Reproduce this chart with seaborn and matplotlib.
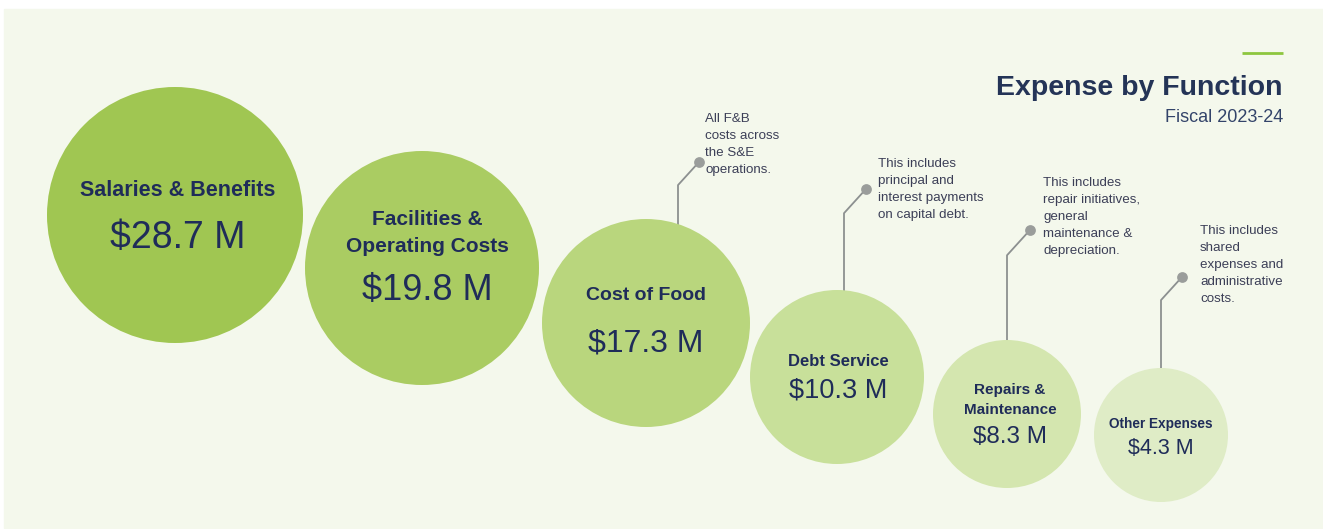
import matplotlib
matplotlib.use("Agg")
import matplotlib.pyplot as plt
from matplotlib.patches import Rectangle
import seaborn as sns

# === DATA ===
categories = ["Salaries & Benefits", "Facilities &\nOperating Costs", "Cost of Food",
              "Debt Service", "Repairs &\nMaintenance", "Other Expenses"]
amounts = [28.7, 19.8, 17.3, 10.3, 8.3, 4.3]  # $ millions
notes = [None, None,
         "All F&B\ncosts across\nthe S&E\noperations.",
         "This includes\nprincipal and\ninterest payments\non capital debt.",
         "This includes\nrepair initiatives,\ngeneral\nmaintenance &\ndepreciation.",
         "This includes\nshared\nexpenses and\nadministrative\ncosts."]
title = "Expense by Function"
subtitle = "Fiscal 2023-24"

# === LAYOUT (pixel space, 1323 x 529) ===
W, H, DPI = 1323, 529, 100
cx = [175, 422, 646, 837, 1007, 1161]
cy = [215, 268, 323, 377, 414, 435]
radius = [128, 117, 104, 87, 74, 67]
colors = ["#a0c652", "#aacc62", "#b9d67d", "#c8e09a", "#d4e6af", "#dfecc6"]
label_y = [190, 233, 295, 361, 400, 424]
label_size = [15.5, 15, 14, 12, 11, 9.8]
value_y = [238, 291, 344, 391, 437, 449]
value_size = [27, 26, 23, 19.5, 17.5, 15.5]
label_dx = [3, 5, 0, 1, 3, 0]
# callouts: dot position, vertical line x, first text line y
dot_xy = [None, None, (699, 162), (866, 189), (1030, 230), (1182, 277)]
stem_x = [None, None, 678, 844, 1007, 1161]
note_x = [None, None, 705, 878, 1043, 1200]
note_y = [None, None, 119, 164, 183, 231]

NAVY = "#1f2c59"
NOTE = "#3c3f57"
BG = "#f4f8ec"

sns.set_style("white")
plt.rcParams["font.family"] = ["Liberation Sans", "DejaVu Sans"]

fig = plt.figure(figsize=(W / DPI, H / DPI), dpi=DPI, facecolor="white")
ax = fig.add_axes([0, 0, 1, 1])
ax.set_xlim(0, W)
ax.set_ylim(H, 0)
ax.axis("off")

ax.add_patch(Rectangle((4, 9), W - 4, 519, color=BG, zorder=0))

# --- callout stems ---
for i, note in enumerate(notes):
    if note is None:
        continue
    dx, dy = dot_xy[i]
    sx = stem_x[i]
    kink = dy + (dx - sx) * 1.1
    ax.plot([dx, sx, sx], [dy, kink, cy[i] - radius[i] + 6], color="#8c9090", lw=1.3, zorder=1)
    ax.scatter([dx], [dy], s=60, color="#9a9d9b", zorder=2, linewidths=0)
    for j, line in enumerate(note.split("\n")):
        ax.text(note_x[i], note_y[i] + j * 17, line, fontsize=9.6, color=NOTE,
                ha="left", va="center", zorder=3)

# --- bubbles ---
sizes = [(2 * r * 72 / DPI) ** 2 for r in radius]
sns.scatterplot(x=cx, y=cy, hue=categories, palette=colors, s=sizes,
                linewidth=0, legend=False, ax=ax, zorder=4)

for i, cat in enumerate(categories):
    ax.text(cx[i] + label_dx[i], label_y[i], cat, fontsize=label_size[i], fontweight="bold",
            color=NAVY, ha="center", va="center", linespacing=1.5, zorder=5)
    ax.text(cx[i] + label_dx[i], value_y[i], f"${amounts[i]} M", fontsize=value_size[i],
            color=NAVY, ha="center", va="center", zorder=5)

# --- title block ---
ax.plot([1242, 1283], [53, 53], color="#8dc63f", lw=2, solid_capstyle="butt")
ax.text(1283, 88, title, fontsize=20.5, fontweight="bold", color="#243457",
        ha="right", va="center")
ax.text(1283, 118, subtitle, fontsize=13, color="#33446a", ha="right", va="center")

fig.savefig("out.png", dpi=DPI, facecolor="white")
